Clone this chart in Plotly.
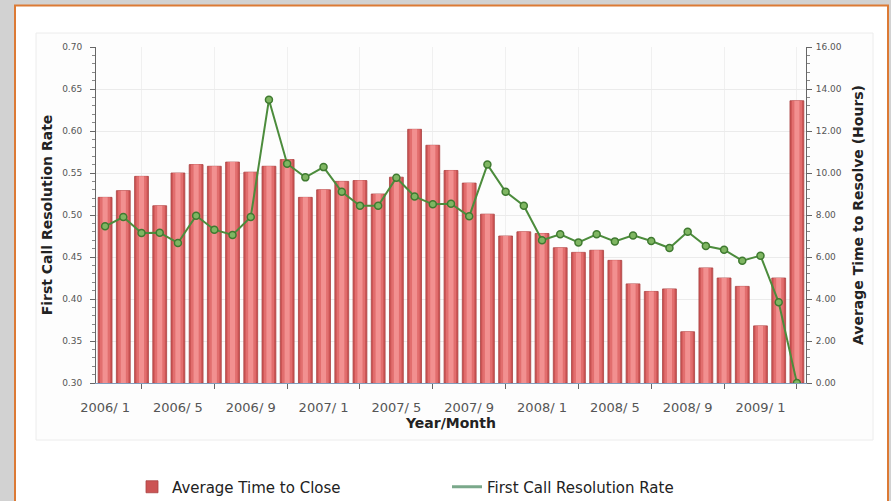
import plotly.graph_objects as go

# Monthly categories, Jan 2006 through Mar 2009
months = [f"{y}/ {m}" for y in (2006, 2007, 2008, 2009) for m in range(1, 13)][:39]

# Average time to close, in hours (right axis)
avg_time_to_close = [
    8.84, 9.16, 9.84, 8.44, 10.00, 10.40, 10.32, 10.52, 10.04, 10.32,
    10.64, 8.84, 9.20, 9.60, 9.64, 9.00, 9.80, 12.08, 11.32, 10.12,
    9.52, 8.04, 7.00, 7.20, 7.12, 6.44, 6.22, 6.32, 5.84, 4.72,
    4.36, 4.48, 2.44, 5.48, 5.00, 4.60, 2.72, 5.00, 13.44,
]

# First call resolution rate (left axis)
first_call_rate = [
    0.4865, 0.4976, 0.4786, 0.4790, 0.4667, 0.4992, 0.4825, 0.4762, 0.4976, 0.6373,
    0.5610, 0.5448, 0.5570, 0.5277, 0.5110, 0.5110, 0.5444, 0.5220, 0.5127, 0.5135,
    0.4984, 0.5600, 0.5277, 0.5110, 0.4700, 0.4770, 0.4674, 0.4770, 0.4686, 0.4757,
    0.4690, 0.4607, 0.4800, 0.4630, 0.4587, 0.4456, 0.4516, 0.3960, 0.3000,
]

label_every = 4
idx = list(range(len(months)))
label_idx = idx[0::label_every]
label_text = [months[i] for i in label_idx]
minor_idx = idx[2::label_every]

W, H = 891, 501
L, R, T, B = 96, 85, 47, 118
pw, ph = W - L - R, H - T - B


def px(x):
    return (x - L) / pw


def py(y):
    return (H - B - y) / ph


FONT = "DejaVu Sans"
TICK_COLOR = "#555555"

fig = go.Figure()

# Bars with a simple layered shading to give a rounded look
fig.add_trace(go.Bar(
    x=idx, y=avg_time_to_close, yaxis="y", width=0.76,
    marker=dict(color="#cc5454", line=dict(color="#a94141", width=0.8)),
    name="Average Time to Close", customdata=months,
    hovertemplate="%{customdata}<br>%{y:.2f} h<extra></extra>",
))
fig.add_trace(go.Bar(
    x=idx, y=avg_time_to_close, yaxis="y", width=0.56,
    marker=dict(color="#e26e6e", line=dict(width=0)),
    showlegend=False, hoverinfo="skip",
))
fig.add_trace(go.Bar(
    x=idx, y=avg_time_to_close, yaxis="y", width=0.28,
    marker=dict(color="#f29090", line=dict(width=0)),
    showlegend=False, hoverinfo="skip",
))

# Resolution rate line
fig.add_trace(go.Scatter(
    x=idx, y=first_call_rate, yaxis="y2", mode="lines+markers",
    line=dict(color="#4c8c3c", width=2),
    marker=dict(size=7, color="#7fb662", line=dict(color="#3f7a30", width=1.5)),
    showlegend=False, customdata=months,
    hovertemplate="%{customdata}<br>%{y:.3f}<extra></extra>",
))
fig.add_trace(go.Scatter(
    x=[None], y=[None], yaxis="y2", mode="lines",
    line=dict(color="#7aa88a", width=3),
    name="First Call Resolution Rate",
))

shapes = [
    dict(type="rect", xref="paper", yref="paper", layer="below",
         x0=px(15), x1=px(888), y0=py(530), y1=py(5.5),
         fillcolor="white", line=dict(color="#dc7a35", width=2)),
    dict(type="rect", xref="paper", yref="paper", layer="below",
         x0=px(36), x1=px(873), y0=py(440), y1=py(33),
         fillcolor="#fdfdfd", line=dict(color="#ececec", width=1)),
]

fig.update_layout(
    width=W, height=H,
    margin=dict(l=L, r=R, t=T, b=B, autoexpand=False),
    paper_bgcolor="#d2d2d2",
    plot_bgcolor="white",
    barmode="overlay",
    font=dict(family=FONT, color="#222222"),
    shapes=shapes,
    xaxis=dict(
        automargin=False,
        range=[-0.5, len(months) - 0.5],
        tickmode="array", tickvals=label_idx, ticktext=label_text,
        ticks="", showgrid=False, zeroline=False,
        tickfont=dict(size=13, color=TICK_COLOR), ticklabelstandoff=12,
        showline=True, linecolor="#7f9cbc", linewidth=1,
        minor=dict(tickmode="array", tickvals=minor_idx, ticks="outside",
                   ticklen=5, tickcolor="#666666", showgrid=True,
                   gridcolor="#f0f0f0", gridwidth=1),
        title=dict(text="<b>Year/Month</b>", font=dict(size=14, color="#222222"),
                   standoff=3),
    ),
    yaxis=dict(
        automargin=False,
        side="right", range=[0, 16], tickmode="linear", tick0=0, dtick=2,
        tickformat=".2f", ticks="outside", ticklen=5, tickcolor="#666666",
        tickfont=dict(size=9, color=TICK_COLOR), ticklabelstandoff=2,
        showline=True, linecolor="#666666", linewidth=1,
        showgrid=True, gridcolor="#ebebeb", zeroline=False,
        minor=dict(dtick=0.4, ticks="outside", ticklen=3, tickcolor="#888888",
                   showgrid=False),
        title=dict(text="<b>Average Time to Resolve (Hours)</b>",
                   font=dict(size=14, color="#222222"), standoff=12),
    ),
    yaxis2=dict(
        automargin=False,
        overlaying="y", side="left", range=[0.30, 0.70], tickmode="linear",
        tick0=0.30, dtick=0.05, tickformat=".2f", ticks="outside", ticklen=5,
        tickcolor="#666666", tickfont=dict(size=9, color=TICK_COLOR),
        ticklabelstandoff=6,
        showline=True, linecolor="#666666", linewidth=1,
        showgrid=False, zeroline=False,
        minor=dict(dtick=0.01, ticks="outside", ticklen=3, tickcolor="#888888",
                   showgrid=False),
        title=dict(text="<b>First Call Resolution Rate</b>",
                   font=dict(size=14, color="#222222"), standoff=6),
    ),
    legend=dict(
        orientation="h", x=px(132), y=py(487), xanchor="left", yanchor="middle",
        font=dict(size=15, color="#222222"), bgcolor="rgba(0,0,0,0)",
        entrywidth=270, entrywidthmode="pixels", traceorder="normal",
    ),
)

fig.write_html("out.html")
